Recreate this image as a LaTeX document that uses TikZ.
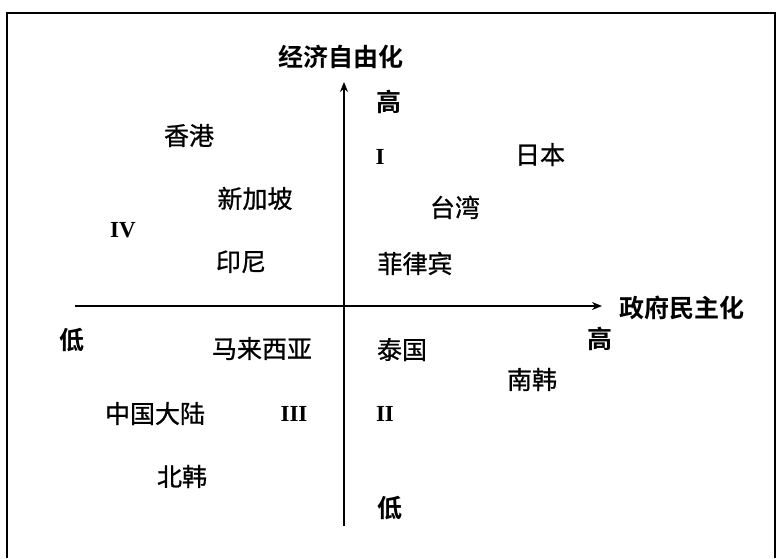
\documentclass[tikz,border=0pt]{standalone}
\usepackage{fontspec}
\newfontfamily\cjk[FakeBold=0.9]{Noto Sans CJK SC}
\newfontfamily\cjkb{Noto Sans CJK SC Bold}
\newfontfamily\rmn{Liberation Serif}
\usetikzlibrary{arrows.meta}
\begin{document}
\begin{tikzpicture}[x=1pt,y=-1pt,
  lbl/.style={font=\cjk\fontsize{25}{25}\selectfont, inner sep=0pt, anchor=base},
  tlbl/.style={font=\cjkb\fontsize{25}{25}\selectfont, inner sep=0pt, anchor=base},
  rom/.style={font=\rmn\bfseries\fontsize{23}{23}\selectfont, inner sep=0pt, anchor=base},
  axisline/.style={line width=2.6pt, -{Stealth[length=10pt,width=8pt]}},
  framebox/.style={line width=1.6pt}]
\useasboundingbox (0,0) rectangle (777,558);
% frame
\coordinate (fbl) at (7,558);
\coordinate (ftl) at (7,13);
\coordinate (ftr) at (775,13);
\coordinate (fbr) at (775,558);
\draw[framebox] (fbl) -- (ftl) -- (ftr) -- (fbr);
% axes
\coordinate (vbot) at (344,526);
\coordinate (vtop) at (344,82);
\coordinate (hleft) at (75,306);
\coordinate (hright) at (602,306);
\draw[axisline] (vbot) -- (vtop);
\draw[axisline] (hleft) -- (hright);
% axis titles
\node[tlbl] (ytitle) at (341,66.5) {经济自由化};
\node[tlbl] (xtitle) at (682,317) {政府民主化};
\node[tlbl] (yhigh) at (389,111) {高};
\node[tlbl] (ylow) at (390,517) {低};
\node[tlbl] (xlow) at (72,349) {低};
\node[tlbl] (xhigh) at (600,348) {高};
% quadrant numerals
\node[rom] (q1) at (380,164) {I};
\node[rom] (q2) at (385,421) {II};
\node[rom] (q3) at (294,421) {III};
\node[rom] (q4) at (123,237) {IV};
% countries
\node[lbl] (hk) at (189,145) {香港};
\node[lbl] (sg) at (255,208) {新加坡};
\node[lbl] (id) at (241,271) {印尼};
\node[lbl] (jp) at (540,164) {日本};
\node[lbl] (tw) at (455,217) {台湾};
\node[lbl] (ph) at (415,273) {菲律宾};
\node[lbl] (my) at (262,358) {马来西亚};
\node[lbl] (cn) at (155,423) {中国大陆};
\node[lbl] (kp) at (182,486) {北韩};
\node[lbl] (th) at (402,359) {泰国};
\node[lbl] (kr) at (532,389) {南韩};
\end{tikzpicture}
\end{document}
